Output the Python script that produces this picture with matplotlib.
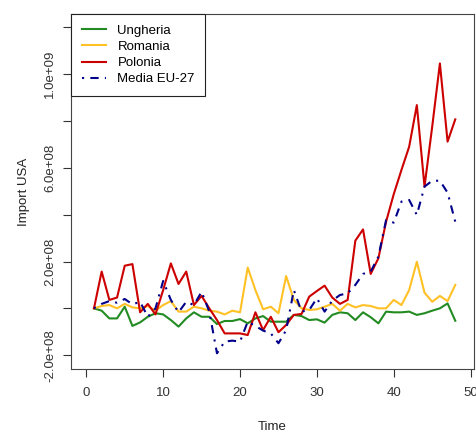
import matplotlib
matplotlib.use("Agg")
import matplotlib.pyplot as plt
import numpy as np

# ---------------- DATA (values in 1e8) ----------------
time = list(range(1, 49))

ungheria = [0, -0.1, -0.43, -0.43, 0.07, -0.75, -0.6, -0.36, -0.21, -0.26,
            -0.5, -0.78, -0.43, -0.17, -0.36, -0.36, -0.67, -0.54, -0.54, -0.46,
            -0.64, -0.43, -0.33, -0.57, -0.57, -0.57, -0.28, -0.33, -0.5, -0.47,
            -0.61, -0.28, -0.17, -0.21, -0.5, -0.17, -0.38, -0.64, -0.14, -0.17,
            -0.17, -0.14, -0.28, -0.21, -0.1, 0.0, 0.21, -0.53]

romania = [0, 0.1, 0.14, 0.0, 0.19, 0.04, 0.0, 0.1, -0.1, 0.14,
           0.31, -0.14, -0.14, 0.07, 0.0, -0.1, -0.14, -0.26, -0.1, -0.17,
           1.74, 0.78, -0.04, 0.07, -0.21, 1.38, 0.36, 0.0, -0.07, -0.04,
           0.07, 0.19, -0.1, 0.19, 0.04, 0.14, 0.1, 0.0, 0.0, 0.36,
           0.14, 0.78, 1.99, 0.67, 0.28, 0.53, 0.31, 1.0]

polonia = [0, 1.57, 0.36, 0.46, 1.82, 1.89, -0.17, 0.19, -0.26, 0.78,
           1.92, 1.04, 1.57, 0.14, 0.53, 0.0, -0.5, -1.07, -1.07, -1.07,
           -1.14, -0.17, -0.93, -0.36, -1.02, -0.71, -0.28, -0.24, 0.5, 0.74,
           0.97, 0.46, 0.19, 0.36, 2.89, 3.37, 1.47, 2.14, 3.7, 4.88,
           5.91, 6.9, 8.68, 5.2, 7.76, 10.46, 7.12, 8.07]

media_eu27 = [0, 0.19, 0.31, 0.24, 0.4, 0.17, 0.28, -0.36, 0.0, 1.17,
              0.36, -0.17, 0.28, 0.14, 0.71, -0.14, -1.92, -1.42, -1.38, -1.42,
              -0.57, -0.75, -0.95, -1.07, -1.49, -0.93, 0.78, -0.14, -0.07, 0.43,
              -0.14, 0.33, 0.57, 0.64, 1.0, 1.47, 1.57, 2.21, 3.77, 3.66,
              4.56, 4.63, 3.99, 5.2, 5.45, 5.45, 4.94, 3.7]

series = [("Ungheria", ungheria), ("Romania", romania),
          ("Polonia", polonia), ("Media EU-27", media_eu27)]

x_ticks = [0, 10, 20, 30, 40, 50]
y_ticks = [-2e8, 0, 2e8, 4e8, 6e8, 8e8, 1e9, 1.2e9]
y_labels = ["-2.0e+08", "", "2.0e+08", "", "6.0e+08", "", "1.0e+09", ""]

# ---------------- STYLE ----------------
plt.rcParams["font.family"] = ["Liberation Sans", "DejaVu Sans"]
styles = {
    "Ungheria": dict(color="#228B22", linestyle="-"),
    "Romania": dict(color="#FFC125", linestyle="-"),
    "Polonia": dict(color="#CD0000", linestyle="-"),
    "Media EU-27": dict(color="#00008B", linestyle=(0, (1, 3, 4, 3))),
}

fig = plt.figure(figsize=(4.76, 4.34), dpi=100)
ax = fig.add_axes([0.1498, 0.1498, 0.8454, 0.8179])

for name, vals in series:
    ax.plot(time, np.array(vals) * 1e8, linewidth=1.5, label=name, **styles[name])

ax.set_xlim(-1.95, 50.4)
ax.set_ylim(-2.59e8, 1.257e9)

ax.set_xticks(x_ticks)
ax.set_xticklabels([str(t) for t in x_ticks])
ax.set_yticks(y_ticks)
ax.set_yticklabels(y_labels, rotation=90, va="center")

ax.tick_params(axis="both", direction="out", length=5.8, width=0.8,
               colors="#333333", labelsize=9.5, pad=7)
ax.tick_params(axis="y", pad=5)
for s in ax.spines.values():
    s.set_color("#444444")
    s.set_linewidth(0.8)

ax.set_xlabel("Time", fontsize=9.5, color="#222222", labelpad=16)
ax.set_ylabel("Import USA", fontsize=9.5, color="#222222", labelpad=10)

leg = ax.legend(loc="upper left", borderaxespad=0, fancybox=False,
                edgecolor="#222222", framealpha=1, fontsize=9.5,
                handlelength=1.8, handletextpad=0.9, labelspacing=0.3,
                borderpad=0.8)
leg.get_frame().set_linewidth(0.8)

fig.savefig("out.png", dpi=100)
